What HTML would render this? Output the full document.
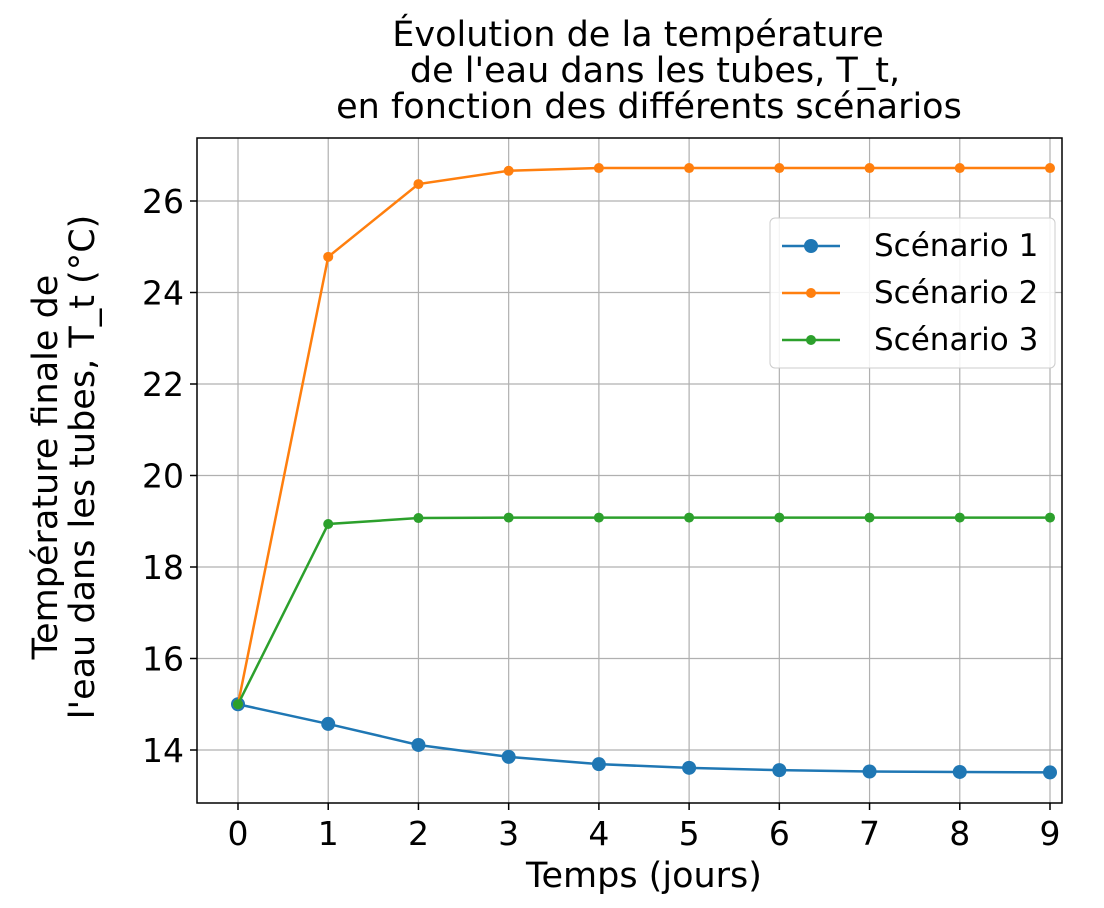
<!DOCTYPE html>
<html><head><meta charset="utf-8"><style>
body{margin:0;background:#fff;}
svg{display:block;font-family:"DejaVu Sans","Liberation Sans",sans-serif;}
</style></head><body>
<svg id="chart" width="1104" height="908">
<text x="638" y="46" font-size="35" text-anchor="middle">Évolution de la température</text>
<text x="655" y="82" font-size="35" text-anchor="middle">de l'eau dans les tubes, T_t,</text>
<text x="649" y="118" font-size="35" text-anchor="middle">en fonction des différents scénarios</text>
<g id="grid"></g><g id="ticks"></g><g id="series"></g>
<rect x="197" y="138" width="865" height="665" fill="none" stroke="#000" stroke-width="1.5"/>
<text x="644" y="887" font-size="35" text-anchor="middle">Temps (jours)</text>
<text transform="translate(57,467) rotate(-90)" font-size="35" text-anchor="middle">Température finale de</text>
<text transform="translate(94,467) rotate(-90)" font-size="35" text-anchor="middle">l'eau dans les tubes, T_t (°C)</text>
<g>
<rect x="770" y="218" width="285" height="150" rx="5" fill="#fff" fill-opacity="0.85" stroke="#ccc"/>
<line x1="782" y1="246" x2="840" y2="246" stroke="#1f77b4" stroke-width="2.5"/><circle cx="811" cy="246" r="7" fill="#1f77b4"/>
<text x="874" y="256" font-size="31">Scénario 1</text>
<line x1="782" y1="293" x2="840" y2="293" stroke="#ff7f0e" stroke-width="2.5"/><circle cx="811" cy="293" r="5" fill="#ff7f0e"/>
<text x="874" y="303" font-size="31">Scénario 2</text>
<line x1="782" y1="340" x2="840" y2="340" stroke="#2ca02c" stroke-width="2.5"/><circle cx="811" cy="340" r="5" fill="#2ca02c"/>
<text x="874" y="350" font-size="31">Scénario 3</text>
</g>
</svg>
<script>
const days=[0,1,2,3,4,5,6,7,8,9];
const scenario1=[15,14.57,14.11,13.85,13.69,13.61,13.56,13.53,13.52,13.51];
const scenario2=[15,24.78,26.37,26.66,26.72,26.72,26.72,26.72,26.72,26.72];
const scenario3=[15,18.94,19.07,19.08,19.08,19.08,19.08,19.08,19.08,19.08];
const yTicks=[14,16,18,20,22,24,26];
const NS="http://www.w3.org/2000/svg";
const xs=d=>238+d*(1050-238)/9;
const ys=v=>750-(v-14)*(750-201)/12;
function mk(tag,attrs,parent){const e=document.createElementNS(NS,tag);for(const k in attrs)e.setAttribute(k,attrs[k]);document.getElementById(parent).appendChild(e);return e;}
days.forEach(d=>{
 const g=mk('line',{x1:xs(d),x2:xs(d),y1:138,y2:803,stroke:'#b0b0b0','stroke-width':1.2},'grid');
 
 
 mk('line',{x1:xs(d),x2:xs(d),y1:803,y2:810,stroke:'#000','stroke-width':1.5},'ticks');
 const t=mk('text',{x:xs(d),y:845,'font-size':33,'text-anchor':'middle'},'ticks');t.textContent=d;
 
 
});
yTicks.forEach(v=>{
 const g=mk('line',{x1:197,x2:1062,y1:ys(v),y2:ys(v),stroke:'#b0b0b0','stroke-width':1.2},'grid');
 
 
 mk('line',{x1:190,x2:197,y1:ys(v),y2:ys(v),stroke:'#000','stroke-width':1.5},'ticks');
 const t=mk('text',{x:184,y:ys(v)+12,'font-size':33,'text-anchor':'end'},'ticks');t.textContent=v;
 
 
});
[[scenario1,'#1f77b4',7,'scenario-1'],[scenario2,'#ff7f0e',5,'scenario-2'],[scenario3,'#2ca02c',5,'scenario-3']].forEach(([vals,c,r,n])=>{
 const p=mk('polyline',{points:vals.map((v,i)=>xs(days[i])+','+ys(v)).join(' '),fill:'none',stroke:c,'stroke-width':2.5},'series');
 
 
 vals.forEach((v,i)=>{const m=mk('circle',{cx:xs(days[i]),cy:ys(v),r:r,fill:c},'series');
 
 });
});
</script>
</body></html>
